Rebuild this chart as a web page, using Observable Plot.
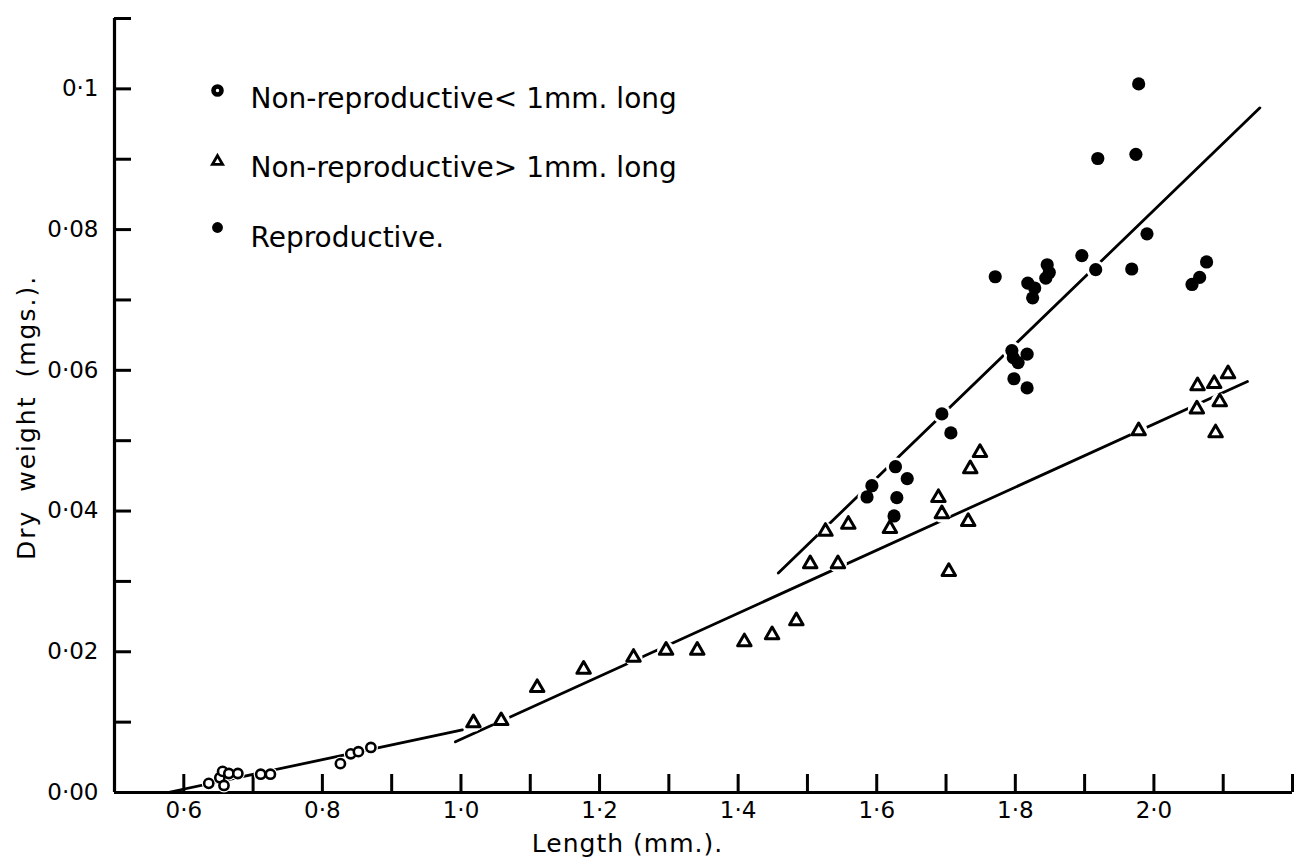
<!DOCTYPE html>
<html>
<head>
<meta charset="utf-8">
<script src="https://cdn.jsdelivr.net/npm/d3@7"></script>
<script src="https://cdn.jsdelivr.net/npm/@observablehq/plot@0.6"></script>
<style>
  body { margin: 0; background: #fff; }
  #chart { width: 1304px; height: 867px; }
</style>
</head>
<body>
<div id="chart"></div>
<script>
// ---- Data ----
const smallLength = [0.636, 0.652, 0.656, 0.658, 0.665, 0.678, 0.711, 0.725, 0.826, 0.841, 0.852, 0.870];
const smallWeight = [0.0013, 0.0021, 0.0030, 0.0010, 0.0027, 0.0027, 0.0026, 0.0026, 0.0041, 0.0055, 0.0058, 0.0064];

const largeLength = [1.018, 1.058, 1.110, 1.177, 1.249, 1.296, 1.341, 1.409, 1.449, 1.484, 1.504, 1.526, 1.544, 1.559,
  1.619, 1.689, 1.694, 1.704, 1.732, 1.735, 1.749, 1.978, 2.062, 2.063, 2.087, 2.089, 2.095, 2.107];
const largeWeight = [0.0099, 0.0102, 0.0149, 0.0175, 0.0192, 0.0202, 0.0202, 0.0214, 0.0224, 0.0244, 0.0325, 0.0371, 0.0325, 0.0381,
  0.0375, 0.0419, 0.0396, 0.0314, 0.0385, 0.0460, 0.0483, 0.0514, 0.0545, 0.0578, 0.0581, 0.0511, 0.0555, 0.0595];

const reproLength = [1.586, 1.593, 1.625, 1.627, 1.629, 1.644, 1.694, 1.707, 1.771, 1.795, 1.797, 1.798, 1.804, 1.817, 1.817,
  1.818, 1.825, 1.828, 1.844, 1.846, 1.849, 1.896, 1.916, 1.919, 1.968, 1.974, 1.978, 1.990, 2.055, 2.066, 2.076];
const reproWeight = [0.0420, 0.0436, 0.0393, 0.0463, 0.0419, 0.0446, 0.0538, 0.0511, 0.0733, 0.0628, 0.0618, 0.0588, 0.0611, 0.0623, 0.0575,
  0.0724, 0.0703, 0.0717, 0.0731, 0.0750, 0.0739, 0.0763, 0.0743, 0.0901, 0.0744, 0.0907, 0.1007, 0.0794, 0.0722, 0.0732, 0.0754];

// fitted lines (end points)
const fitSmallLength = [0.577, 1.002];
const fitSmallWeight = [0.0, 0.0089];
const fitLargeLength = [0.992, 2.135];
const fitLargeWeight = [0.0072, 0.0584];
const fitReproLength = [1.458, 2.153];
const fitReproWeight = [0.0312, 0.0973];

// axes
const xDomain = [0.5, 2.2];
const yDomain = [0, 0.11];
const xTickValues = [0.6, 0.7, 0.8, 0.9, 1.0, 1.1, 1.2, 1.3, 1.4, 1.5, 1.6, 1.7, 1.8, 1.9, 2.0, 2.1, 2.2];
const xLabelValues = [0.6, 0.8, 1.0, 1.2, 1.4, 1.6, 1.8, 2.0];
const xLabels = ["0·6", "0·8", "1·0", "1·2", "1·4", "1·6", "1·8", "2·0"];
const yTickValues = [0.01, 0.02, 0.03, 0.04, 0.05, 0.06, 0.07, 0.08, 0.09, 0.1, 0.11];
const yLabelValues = [0, 0.02, 0.04, 0.06, 0.08, 0.1];
const yLabels = ["0·00", "0·02", "0·04", "0·06", "0·08", "0·1"];
const xTitle = "Length (mm.).";
const yTitle = "Dry weight (mgs.).";
const legendLabels = ["Non-reproductive< 1mm. long", "Non-reproductive> 1mm. long", "Reproductive."];

// ---- build tables ----
const zip = (xs, ys) => xs.map((x, i) => ({x, y: ys[i]}));
const small = zip(smallLength, smallWeight);
const large = zip(largeLength, largeWeight);
const repro = zip(reproLength, reproWeight);
const fitSmall = zip(fitSmallLength, fitSmallWeight);
const fitLarge = zip(fitLargeLength, fitLargeWeight);
const fitRepro = zip(fitReproLength, fitReproWeight);

const W = 1304, H = 867;
const mL = 114, mR = 12, mT = 18, mB = 75;
const fw = W - mL - mR, fh = H - mT - mB;
const font = "DejaVu Sans";

const chart = Plot.plot({
  width: W, height: H,
  marginLeft: mL, marginRight: mR, marginTop: mT, marginBottom: mB,
  x: {domain: xDomain, axis: null},
  y: {domain: yDomain, axis: null},
  style: {fontFamily: font, fontSize: "24px", color: "#000", background: "#fff"},
  marks: [
    // axis lines
    Plot.ruleX([xDomain[0]], {stroke: "#000", strokeWidth: 3.2}),
    Plot.ruleY([yDomain[0]], {stroke: "#000", strokeWidth: 3.2}),
    // ticks (inward)
    Plot.tickY(yTickValues, {y: d => d, insetRight: fw - 17, stroke: "#000", strokeWidth: 3}),
    Plot.tickX(xTickValues, {x: d => d, insetTop: fh - 18, stroke: "#000", strokeWidth: 3}),
    // tick labels
    Plot.text(yLabelValues, {y: d => d, text: (d, i) => yLabels[i], frameAnchor: "left", textAnchor: "end", dx: -16, fontSize: 23}),
    Plot.text(xLabelValues, {x: d => d, text: (d, i) => xLabels[i], frameAnchor: "bottom", dy: 25, fontSize: 23}),
    // axis titles
    Plot.text([yTitle], {text: d => d, frameAnchor: "left", textAnchor: "middle", rotate: -90, dx: -88, dy: 12, fontSize: 25}),
    Plot.text([xTitle], {text: d => d, frameAnchor: "bottom", textAnchor: "middle", dx: -76, dy: 59, fontSize: 25}),
    // fitted lines
    Plot.line(fitSmall, {x: "x", y: "y", stroke: "#000", strokeWidth: 2.8}),
    Plot.line(fitLarge, {x: "x", y: "y", stroke: "#000", strokeWidth: 2.8}),
    Plot.line(fitRepro, {x: "x", y: "y", stroke: "#000", strokeWidth: 2.8}),
    // halos (gaps in lines around points)
    Plot.dot(small, {x: "x", y: "y", r: 7, fill: "#fff"}),
    Plot.dot(large, {x: "x", y: "y", r: 9, fill: "#fff"}),
    Plot.dot(repro, {x: "x", y: "y", r: 9.5, fill: "#fff"}),
    // points
    Plot.dot(small, {x: "x", y: "y", r: 4.6, stroke: "#000", strokeWidth: 2.6, fill: "#fff"}),
    Plot.dot(large, {x: "x", y: "y", symbol: "triangle", r: 5, stroke: "#000", strokeWidth: 3, fill: "#fff", strokeLinejoin: "round"}),
    Plot.dot(repro, {x: "x", y: "y", r: 6.6, fill: "#000"}),
    // legend
    Plot.dot([0], {frameAnchor: "top-left", dx: 103, dy: 72, r: 4, stroke: "#000", strokeWidth: 4.6, fill: "#fff"}),
    Plot.dot([0], {frameAnchor: "top-left", dx: 103, dy: 143, symbol: "triangle", r: 3.8, stroke: "#000", strokeWidth: 2.8, fill: "#fff"}),
    Plot.dot([0], {frameAnchor: "top-left", dx: 103, dy: 209, r: 5.4, fill: "#000"}),
    Plot.text([legendLabels[0]], {text: d => d, frameAnchor: "top-left", textAnchor: "start", dx: 136, dy: 70, fontSize: 28}),
    Plot.text([legendLabels[1]], {text: d => d, frameAnchor: "top-left", textAnchor: "start", dx: 136, dy: 139, fontSize: 28}),
    Plot.text([legendLabels[2]], {text: d => d, frameAnchor: "top-left", textAnchor: "start", dx: 136, dy: 209, fontSize: 28})
  ]
});
// wider spacing of the axis titles, as in the reference lettering
d3.select(chart).selectAll("text").filter(function () { return this.textContent === yTitle; })
  .attr("letter-spacing", "2px").attr("word-spacing", "8px");
d3.select(chart).selectAll("text").filter(function () { return this.textContent === xTitle; })
  .attr("letter-spacing", "1px");
document.getElementById("chart").appendChild(chart);
</script>
</body>
</html>
